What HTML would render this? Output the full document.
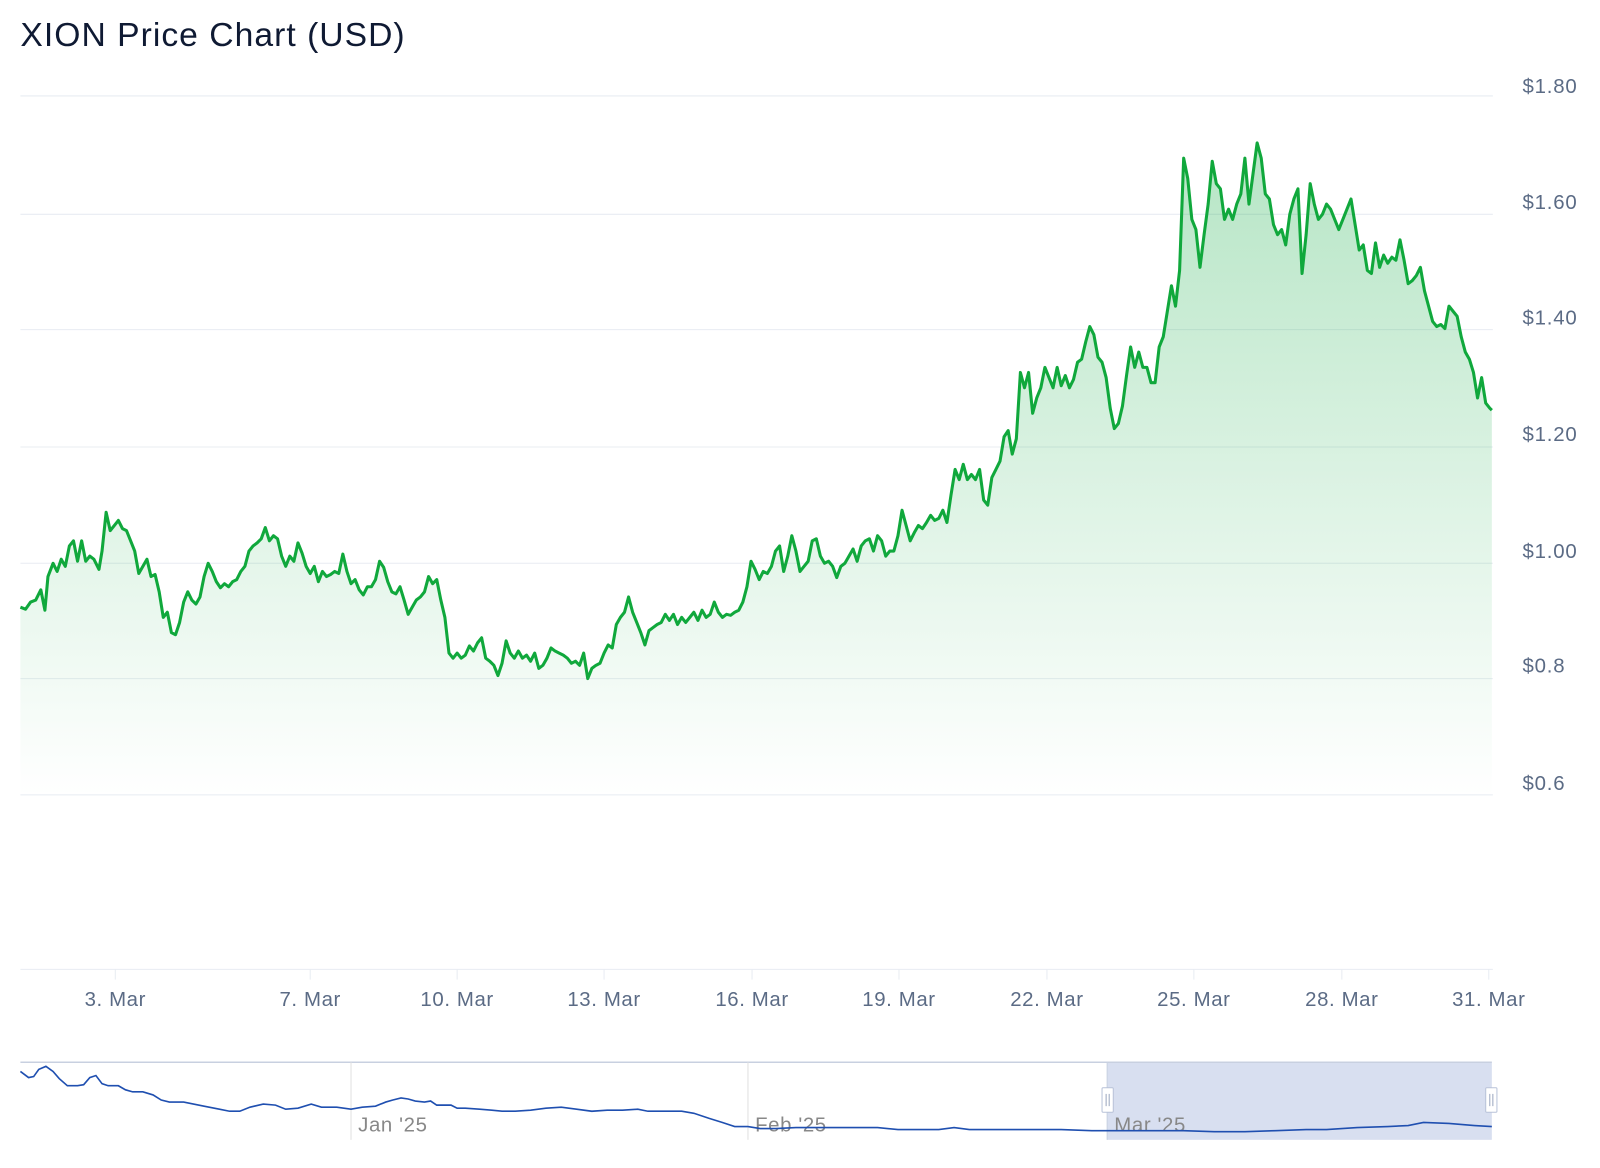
<!DOCTYPE html>
<html><head><meta charset="utf-8"><style>
html,body{margin:0;padding:0;background:#fff;width:1600px;height:1168px;overflow:hidden}
svg{display:block;font-family:"Liberation Sans",sans-serif}
</style></head><body>
<svg width="1600" height="1168" viewBox="0 0 1568 1144.6" xmlns="http://www.w3.org/2000/svg">
<defs>
<linearGradient id="fillg" gradientUnits="userSpaceOnUse" x1="0" y1="140" x2="0" y2="780">
<stop offset="0" stop-color="#1aae4a" stop-opacity="0.32"/>
<stop offset="1" stop-color="#1aae4a" stop-opacity="0"/>
</linearGradient>
</defs>
<text x="20" y="45" font-size="33" letter-spacing="1" fill="#0f1a33">XION Price Chart (USD)</text>
<g stroke="#e8ecf2" stroke-width="1">
<line x1="20" y1="94" x2="1463" y2="94"/>
<line x1="20" y1="210" x2="1463" y2="210"/>
<line x1="20" y1="323" x2="1463" y2="323"/>
<line x1="20" y1="438" x2="1463" y2="438"/>
<line x1="20" y1="552" x2="1463" y2="552"/>
<line x1="20" y1="665" x2="1463" y2="665"/>
<line x1="20" y1="779" x2="1463" y2="779"/>
<line x1="20" y1="950" x2="1463" y2="950"/>
<line x1="113" y1="950" x2="113" y2="960"/><line x1="304" y1="950" x2="304" y2="960"/><line x1="448" y1="950" x2="448" y2="960"/><line x1="592" y1="950" x2="592" y2="960"/><line x1="737" y1="950" x2="737" y2="960"/><line x1="881" y1="950" x2="881" y2="960"/><line x1="1026" y1="950" x2="1026" y2="960"/><line x1="1170" y1="950" x2="1170" y2="960"/><line x1="1315" y1="950" x2="1315" y2="960"/><line x1="1459" y1="950" x2="1459" y2="960"/>
</g>
<g font-size="20" fill="#5b6b85" letter-spacing="0.8">
<text x="1492" y="91">$1.80</text><text x="1492" y="205">$1.60</text><text x="1492" y="318">$1.40</text><text x="1492" y="432">$1.20</text><text x="1492" y="547">$1.00</text><text x="1492" y="659">$0.8</text><text x="1492" y="774">$0.6</text>
</g>
<g font-size="20" fill="#5b6b85" text-anchor="middle" letter-spacing="0.6">
<text x="113" y="986">3. Mar</text><text x="304" y="986">7. Mar</text><text x="448" y="986">10. Mar</text><text x="592" y="986">13. Mar</text><text x="737" y="986">16. Mar</text><text x="881" y="986">19. Mar</text><text x="1026" y="986">22. Mar</text><text x="1170" y="986">25. Mar</text><text x="1315" y="986">28. Mar</text><text x="1459" y="986">31. Mar</text>
</g>
<path fill="url(#fillg)" d="M20,595 L25,597 30,590 35,588 40,578 44,598 47,565 52,552 56,560 60,548 64,555 68,535 72,530 76,550 80,530 84,550 88,545 92,548 97,558 100,540 104,502 108,520 112,515 116,510 120,518 124,520 128,530 132,540 136,562 140,555 144,548 148,565 152,563 156,580 160,605 164,600 168,620 172,622 176,610 180,590 184,580 188,588 192,592 196,585 200,565 204,552 208,560 212,570 216,576 220,572 224,575 228,570 232,568 236,560 240,555 244,540 248,535 252,532 256,528 260,517 264,530 268,525 272,528 276,545 280,555 284,545 288,550 292,532 296,542 300,555 304,562 308,555 312,570 316,560 320,565 324,563 328,560 332,562 336,543 340,560 344,572 348,568 352,578 356,583 360,575 364,575 368,568 372,550 376,556 380,570 384,580 388,582 392,575 396,588 400,602 404,595 408,588 412,585 416,580 420,565 424,572 428,568 432,588 436,605 440,640 444,645 448,640 452,645 456,642 460,633 464,638 468,630 472,625 476,645 480,648 484,652 488,662 492,650 496,628 500,640 504,645 508,638 512,645 516,642 520,648 524,640 528,655 532,652 536,645 540,635 544,638 548,640 552,642 556,645 560,650 564,648 568,652 572,640 576,665 580,655 584,652 588,650 592,640 596,632 600,635 604,612 608,605 612,600 616,585 620,600 624,610 628,620 632,632 636,618 640,615 644,612 648,610 652,602 656,608 660,602 664,612 668,605 672,610 676,605 680,600 684,608 688,598 692,605 696,602 700,590 704,600 708,605 712,602 716,603 720,600 724,598 728,590 732,575 736,550 740,558 744,568 748,560 752,562 756,555 760,540 764,535 768,560 772,545 776,525 780,540 784,560 788,555 792,550 796,530 800,528 804,545 808,552 812,550 816,555 820,566 824,555 828,552 832,545 836,538 840,550 844,535 848,530 852,528 856,540 860,525 864,530 868,545 872,540 876,540 880,525 884,500 888,515 892,530 896,522 900,515 904,518 908,512 912,505 916,510 920,508 924,500 928,512 932,485 936,460 940,470 944,455 948,470 952,465 956,470 960,460 964,490 968,495 972,468 976,460 980,452 984,428 988,422 992,445 996,430 1000,365 1004,380 1008,365 1012,405 1016,390 1020,380 1024,360 1028,370 1032,380 1036,360 1040,378 1044,368 1048,380 1052,372 1056,355 1060,352 1064,335 1068,320 1072,328 1076,350 1080,355 1084,370 1088,400 1092,420 1096,415 1100,398 1104,368 1108,340 1112,360 1116,345 1120,360 1124,360 1128,375 1132,375 1136,340 1140,330 1144,305 1148,280 1152,300 1156,265 1160,155 1164,175 1168,215 1172,225 1176,262 1180,230 1184,200 1188,158 1192,180 1196,185 1200,215 1204,205 1208,215 1212,200 1216,190 1220,155 1224,200 1228,170 1232,140 1236,155 1240,190 1244,195 1248,220 1252,230 1256,225 1260,240 1264,210 1268,195 1272,185 1276,268 1280,230 1284,180 1288,200 1292,215 1296,210 1300,200 1304,205 1308,215 1312,225 1316,215 1320,205 1324,195 1328,220 1332,245 1336,240 1340,265 1344,268 1348,238 1352,262 1356,250 1360,258 1364,252 1368,255 1372,235 1376,255 1380,278 1384,275 1388,270 1392,262 1396,285 1400,300 1404,315 1408,320 1412,318 1416,322 1420,300 1424,305 1428,310 1432,330 1436,345 1440,352 1444,365 1448,390 1452,370 1456,395 1460,400 1462,402 L1462,950 L20,950 Z"/>
<polyline fill="none" stroke="#10a83c" stroke-width="3" stroke-linejoin="round" points="20,595 25,597 30,590 35,588 40,578 44,598 47,565 52,552 56,560 60,548 64,555 68,535 72,530 76,550 80,530 84,550 88,545 92,548 97,558 100,540 104,502 108,520 112,515 116,510 120,518 124,520 128,530 132,540 136,562 140,555 144,548 148,565 152,563 156,580 160,605 164,600 168,620 172,622 176,610 180,590 184,580 188,588 192,592 196,585 200,565 204,552 208,560 212,570 216,576 220,572 224,575 228,570 232,568 236,560 240,555 244,540 248,535 252,532 256,528 260,517 264,530 268,525 272,528 276,545 280,555 284,545 288,550 292,532 296,542 300,555 304,562 308,555 312,570 316,560 320,565 324,563 328,560 332,562 336,543 340,560 344,572 348,568 352,578 356,583 360,575 364,575 368,568 372,550 376,556 380,570 384,580 388,582 392,575 396,588 400,602 404,595 408,588 412,585 416,580 420,565 424,572 428,568 432,588 436,605 440,640 444,645 448,640 452,645 456,642 460,633 464,638 468,630 472,625 476,645 480,648 484,652 488,662 492,650 496,628 500,640 504,645 508,638 512,645 516,642 520,648 524,640 528,655 532,652 536,645 540,635 544,638 548,640 552,642 556,645 560,650 564,648 568,652 572,640 576,665 580,655 584,652 588,650 592,640 596,632 600,635 604,612 608,605 612,600 616,585 620,600 624,610 628,620 632,632 636,618 640,615 644,612 648,610 652,602 656,608 660,602 664,612 668,605 672,610 676,605 680,600 684,608 688,598 692,605 696,602 700,590 704,600 708,605 712,602 716,603 720,600 724,598 728,590 732,575 736,550 740,558 744,568 748,560 752,562 756,555 760,540 764,535 768,560 772,545 776,525 780,540 784,560 788,555 792,550 796,530 800,528 804,545 808,552 812,550 816,555 820,566 824,555 828,552 832,545 836,538 840,550 844,535 848,530 852,528 856,540 860,525 864,530 868,545 872,540 876,540 880,525 884,500 888,515 892,530 896,522 900,515 904,518 908,512 912,505 916,510 920,508 924,500 928,512 932,485 936,460 940,470 944,455 948,470 952,465 956,470 960,460 964,490 968,495 972,468 976,460 980,452 984,428 988,422 992,445 996,430 1000,365 1004,380 1008,365 1012,405 1016,390 1020,380 1024,360 1028,370 1032,380 1036,360 1040,378 1044,368 1048,380 1052,372 1056,355 1060,352 1064,335 1068,320 1072,328 1076,350 1080,355 1084,370 1088,400 1092,420 1096,415 1100,398 1104,368 1108,340 1112,360 1116,345 1120,360 1124,360 1128,375 1132,375 1136,340 1140,330 1144,305 1148,280 1152,300 1156,265 1160,155 1164,175 1168,215 1172,225 1176,262 1180,230 1184,200 1188,158 1192,180 1196,185 1200,215 1204,205 1208,215 1212,200 1216,190 1220,155 1224,200 1228,170 1232,140 1236,155 1240,190 1244,195 1248,220 1252,230 1256,225 1260,240 1264,210 1268,195 1272,185 1276,268 1280,230 1284,180 1288,200 1292,215 1296,210 1300,200 1304,205 1308,215 1312,225 1316,215 1320,205 1324,195 1328,220 1332,245 1336,240 1340,265 1344,268 1348,238 1352,262 1356,250 1360,258 1364,252 1368,255 1372,235 1376,255 1380,278 1384,275 1388,270 1392,262 1396,285 1400,300 1404,315 1408,320 1412,318 1416,322 1420,300 1424,305 1428,310 1432,330 1436,345 1440,352 1444,365 1448,390 1452,370 1456,395 1460,400 1462,402"/>
<rect x="1085" y="1041" width="377" height="76" fill="#d8dff0"/>
<line x1="20" y1="1041" x2="1462" y2="1041" stroke="#c8d0e0" stroke-width="1.5"/>
<g stroke="#e0e0e0" stroke-width="1"><line x1="344" y1="1041" x2="344" y2="1117"/><line x1="733" y1="1041" x2="733" y2="1117"/></g>
<line x1="1085" y1="1041" x2="1085" y2="1117" stroke="#c8d0e0"/>
<g font-size="20" fill="#888" letter-spacing="0.6"><text x="351" y="1109">Jan '25</text><text x="740" y="1109">Feb '25</text><text x="1092" y="1109">Mar '25</text></g>
<polyline fill="none" stroke="#1f4fb0" stroke-width="1.6" points="20,1050 28,1056 33,1055 38,1048 45,1045 52,1050 58,1057 66,1064 76,1064 82,1063 88,1056 94,1054 100,1062 106,1064 116,1064 123,1068 130,1070 140,1070 150,1073 158,1078 166,1080 180,1080 200,1084 215,1087 225,1089 235,1089 245,1085 258,1082 270,1083 280,1087 292,1086 305,1082 315,1085 330,1085 344,1087 355,1085 368,1084 378,1080 385,1078 393,1076 400,1077 407,1079 416,1080 422,1079 428,1083 436,1083 442,1083 448,1086 456,1086 470,1087 482,1088 492,1089 505,1089 520,1088 535,1086 550,1085 565,1087 580,1089 595,1088 610,1088 625,1087 635,1089 650,1089 668,1089 680,1091 695,1096 708,1100 720,1104 733,1104 745,1106 760,1106 780,1105 800,1105 830,1105 860,1105 880,1107 900,1107 920,1107 935,1105 950,1107 980,1107 1010,1107 1040,1107 1070,1108 1085,1108 1100,1108 1130,1108 1160,1108 1190,1109 1220,1109 1250,1108 1280,1107 1300,1107 1330,1105 1360,1104 1380,1103 1395,1100 1420,1101 1445,1103 1462,1104"/>
<g stroke="#b8c2d8" fill="#fff"><rect x="1080" y="1066" width="11" height="24" rx="1"/><rect x="1456" y="1066" width="11" height="24" rx="1"/></g>
<g stroke="#9aa6bf"><line x1="1084" y1="1072" x2="1084" y2="1084"/><line x1="1087" y1="1072" x2="1087" y2="1084"/><line x1="1460" y1="1072" x2="1460" y2="1084"/><line x1="1463" y1="1072" x2="1463" y2="1084"/></g>
</svg>
</body></html>
